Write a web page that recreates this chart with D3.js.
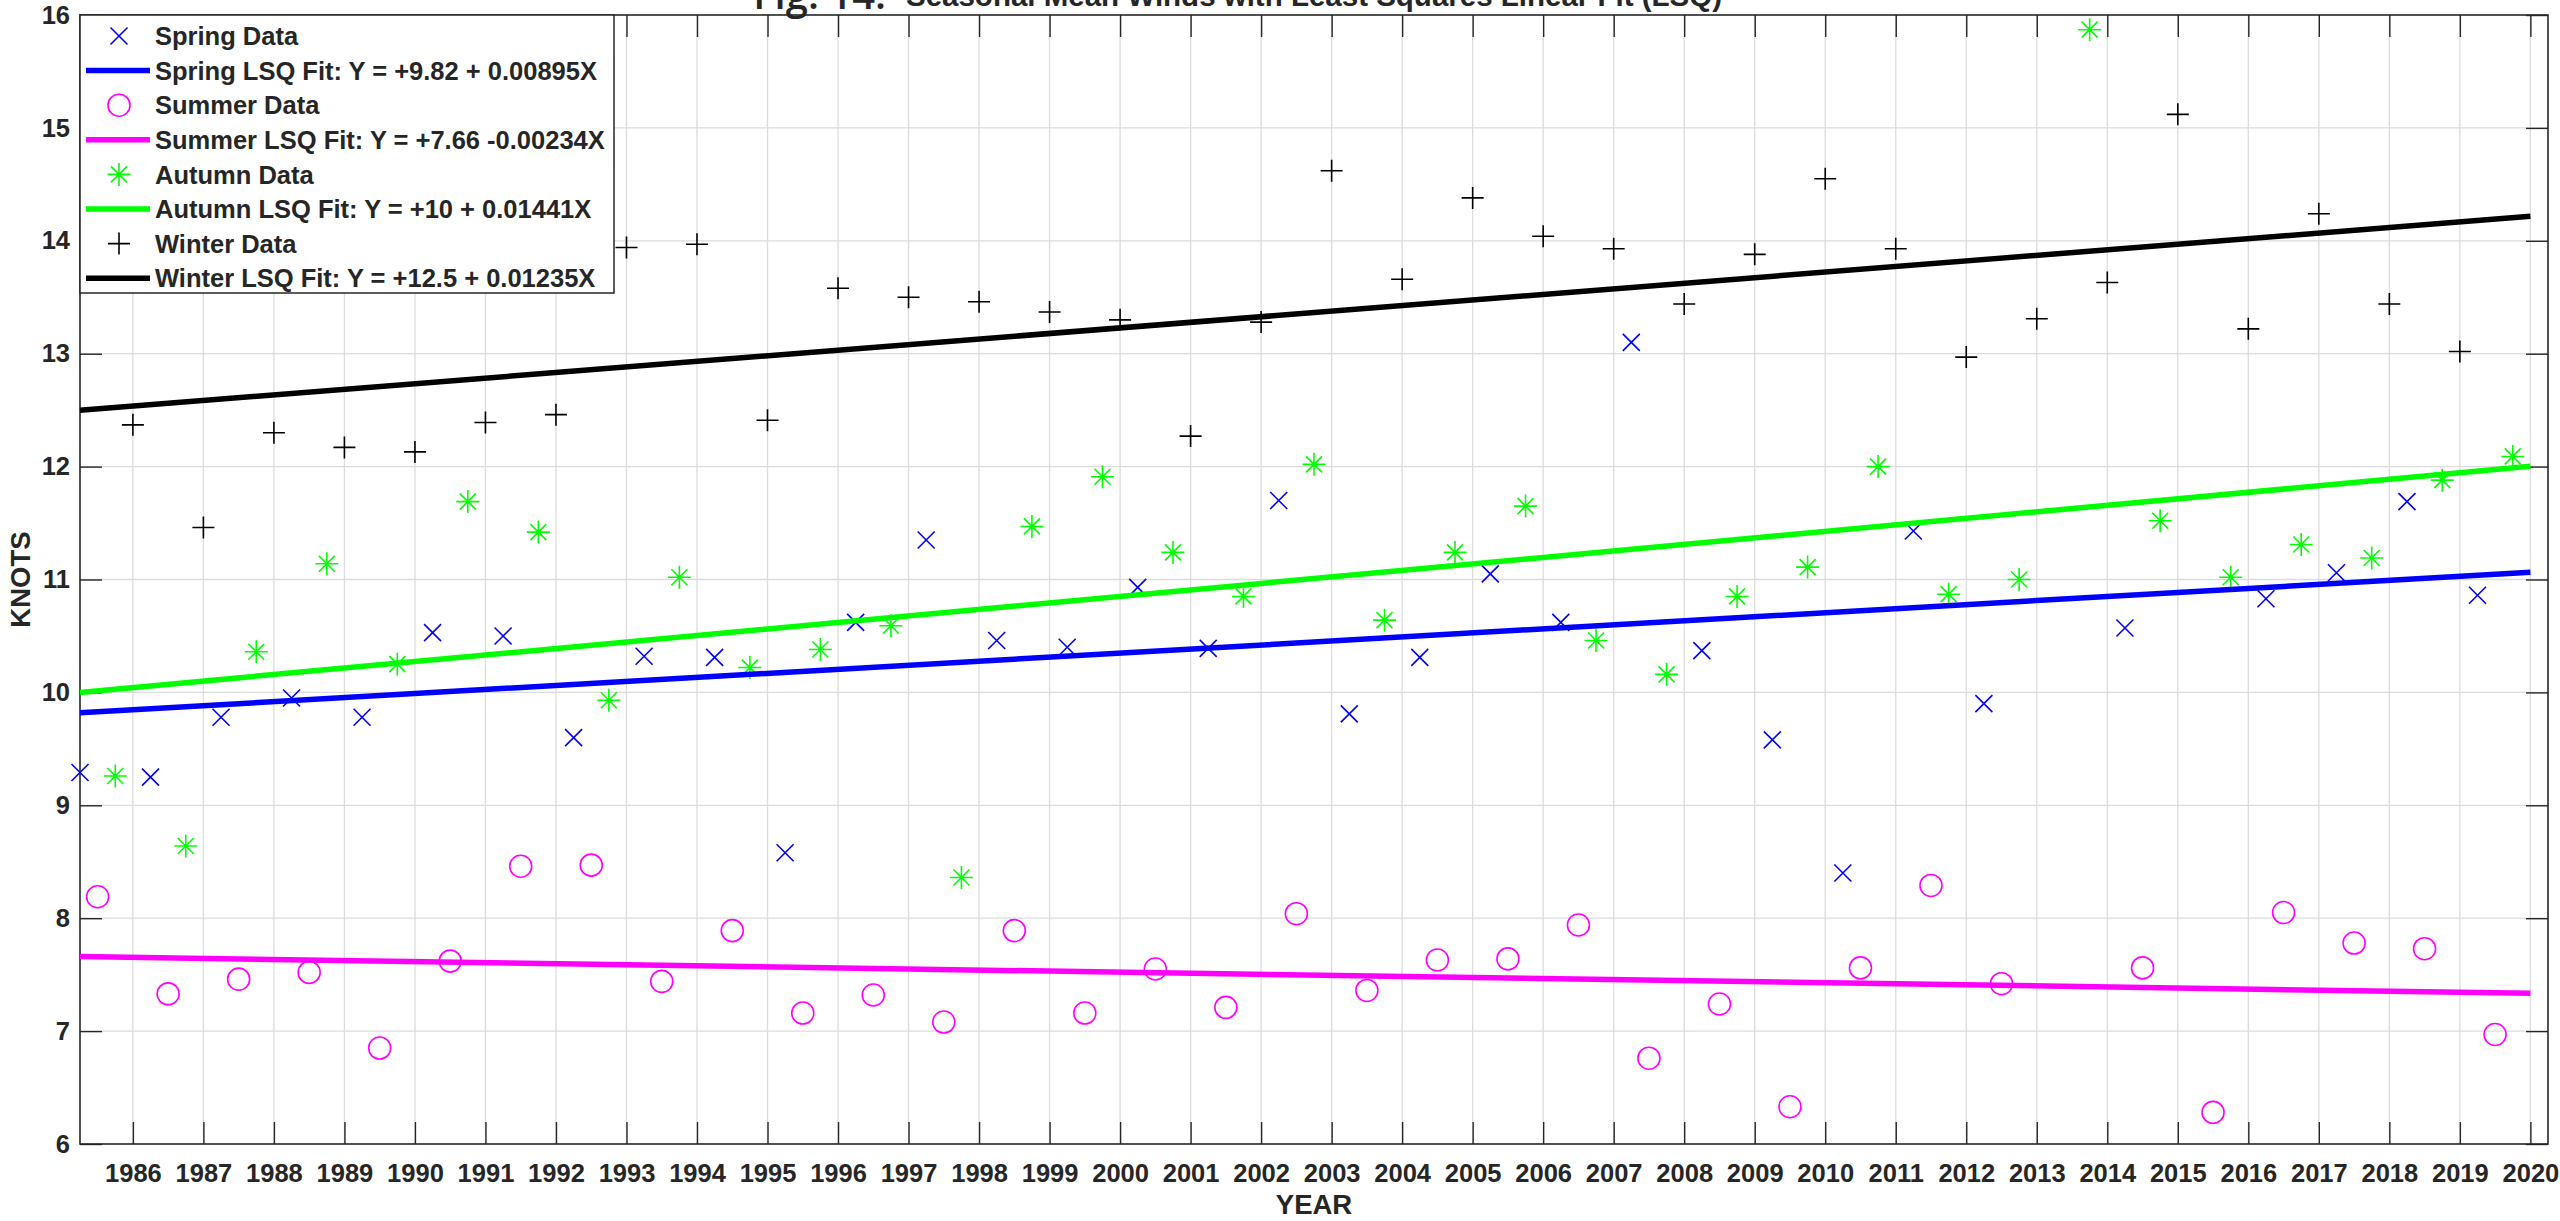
<!DOCTYPE html>
<html>
<head>
<meta charset="utf-8">
<script src="https://cdn.jsdelivr.net/npm/d3@7/dist/d3.min.js"></script>
<style>
  body { margin: 0; background: #fff; overflow: hidden; }
  svg { display: block; }
  svg text { font-family: "Liberation Sans", Arial, Helvetica, sans-serif; font-weight: bold; fill: #262626; }
</style>
</head>
<body>
<svg id="chart"></svg>
<script>
// season values, one per year (null = no point drawn)
const dataYears = [1985, 1986, 1987, 1988, 1989, 1990, 1991, 1992, 1993, 1994, 1995, 1996,
  1997, 1998, 1999, 2000, 2001, 2002, 2003, 2004, 2005, 2006, 2007, 2008, 2009, 2010,
  2011, 2012, 2013, 2014, 2015, 2016, 2017, 2018, 2019];

const springValues = [9.29, 9.25, 9.78, 9.95, 9.78, 10.53, 10.50, 9.60, 10.32, 10.31, 8.58, 10.62,
  11.35, 10.46, 10.40, 10.93, 10.39, 11.70, 9.81, 10.31, 11.05, 10.62, 13.10, 10.37, 9.58, 8.40,
  11.43, 9.90, null, 10.57, null, 10.83, 11.06, 11.69, 10.86];

const summerValues = [8.19, 7.33, 7.46, 7.52, 6.85, 7.62, 8.46, 8.47, 7.44, 7.89, 7.16, 7.32,
  7.08, 7.89, 7.16, 7.55, 7.21, 8.04, 7.36, 7.63, 7.64, 7.94, 6.76, 7.24, 6.33, 7.56,
  8.29, 7.42, null, 7.56, 6.28, 8.05, 7.78, 7.73, 6.97];

const autumnValues = [9.26, 8.64, 10.36, 11.14, 10.25, 11.69, 11.42, 9.93, 11.02, 10.22, 10.38, 10.59,
  8.36, 11.47, 11.91, 11.24, 10.85, 12.02, 10.64, 11.24, 11.65, 10.46, 10.16, 10.85, 11.11, 12.00,
  10.87, 11.00, 15.87, 11.52, 11.02, 11.31, 11.19, 11.88, 12.09];

// winter sits on the year tick (Dec-Feb), so it runs 1986..2019
const winterYears = [1986, 1987, 1988, 1989, 1990, 1991, 1992, 1993, 1994, 1995, 1996, 1997,
  1998, 1999, 2000, 2001, 2002, 2003, 2004, 2005, 2006, 2007, 2008, 2009, 2010, 2011,
  2012, 2013, 2014, 2015, 2016, 2017, 2018, 2019];

const winterValues = [12.37, 11.46, 12.30, 12.17, 12.13, 12.39, 12.46, 13.94, 13.97, 12.41, 13.58, 13.50,
  13.46, 13.37, 13.30, 12.27, 13.28, 14.62, 13.66, 14.38, 14.04, 13.93, 13.44, 13.88, 14.55, 13.93,
  12.97, 13.31, 13.63, 15.12, 13.22, 14.24, 13.44, 13.02];

// LSQ fits as printed in the legend (X = season index)
const fitIntercepts = [9.82, 7.66, 10, 12.5];
const fitSlopes = [0.00895, -0.00234, 0.01441, 0.01235];

const tickYears = ["1986", "1987", "1988", "1989", "1990", "1991", "1992", "1993", "1994", "1995",
  "1996", "1997", "1998", "1999", "2000", "2001", "2002", "2003", "2004", "2005", "2006", "2007",
  "2008", "2009", "2010", "2011", "2012", "2013", "2014", "2015", "2016", "2017", "2018", "2019", "2020"];
const yTicks = [6, 7, 8, 9, 10, 11, 12, 13, 14, 15, 16];

const legendLabels = [
  "Spring Data",
  "Spring LSQ Fit: Y = +9.82 + 0.00895X",
  "Summer Data",
  "Summer LSQ Fit: Y = +7.66 -0.00234X",
  "Autumn Data",
  "Autumn LSQ Fit: Y = +10 + 0.01441X",
  "Winter Data",
  "Winter LSQ Fit: Y = +12.5 + 0.01235X"
];

const width = 2560;
const height = 1221;
const margin = { top: 15, right: 12, bottom: 77, left: 80 };
const innerWidth = width - margin.left - margin.right;
const innerHeight = height - margin.top - margin.bottom;

const svg = d3.select("#chart").attr("width", width).attr("height", height);
svg.append("rect").attr("width", width).attr("height", height).attr("fill", "#fff");

// season index: spring = 0, summer = 1, autumn = 2, winter = 3 (on the tick)
const xScale = d3.scaleLinear().domain([0, 140]).range([0, innerWidth]);
const yScale = d3.scaleLinear().domain([6, 16]).range([innerHeight, 0]);

const tickX = tickYears.map((y) => (+y - 1986) * 4 + 3);

const g = svg.append("g").attr("transform", `translate(${margin.left}, ${margin.top})`);

// grid
g.append("g")
  .selectAll("line")
  .data(tickX)
  .join("line")
  .attr("x1", (d) => xScale(d))
  .attr("x2", (d) => xScale(d))
  .attr("y1", 0)
  .attr("y2", innerHeight)
  .attr("stroke", "#dcdcdc")
  .attr("stroke-width", 1.3);

g.append("g")
  .selectAll("line")
  .data(yTicks.slice(1, -1))
  .join("line")
  .attr("x1", 0)
  .attr("x2", innerWidth)
  .attr("y1", (d) => yScale(d))
  .attr("y2", (d) => yScale(d))
  .attr("stroke", "#dcdcdc")
  .attr("stroke-width", 1.3);

// axes, ticks pointing inwards
const tickLen = 22;
const styleAxis = (sel) => {
  sel.select(".domain").remove();
  sel.selectAll(".tick line").attr("stroke", "#262626").attr("stroke-width", 1.4);
  sel.selectAll(".tick text").attr("font-size", 25.5).attr("fill", "#262626");
};

g.append("g")
  .attr("transform", `translate(0, ${innerHeight})`)
  .call(d3.axisBottom(xScale).tickValues(tickX).tickFormat((d, i) => tickYears[i])
    .tickSizeInner(-tickLen).tickSizeOuter(0).tickPadding(20))
  .call(styleAxis);

g.append("g")
  .call(d3.axisTop(xScale).tickValues(tickX).tickFormat("").tickSizeInner(-tickLen).tickSizeOuter(0))
  .call(styleAxis);

g.append("g")
  .call(d3.axisLeft(yScale).tickValues(yTicks).tickFormat(d3.format("d"))
    .tickSizeInner(-tickLen).tickSizeOuter(0).tickPadding(10))
  .call(styleAxis);

g.append("g")
  .attr("transform", `translate(${innerWidth}, 0)`)
  .call(d3.axisRight(yScale).tickValues(yTicks).tickFormat("").tickSizeInner(-tickLen).tickSizeOuter(0))
  .call(styleAxis);

g.append("rect")
  .attr("width", innerWidth)
  .attr("height", innerHeight)
  .attr("fill", "none")
  .attr("stroke", "#262626")
  .attr("stroke-width", 1.6);

// markers
const colors = ["#0000ff", "#ff00ff", "#00ff00", "#000000"];
const symbols = {
  cross: "M-8.5,-8.5L8.5,8.5M-8.5,8.5L8.5,-8.5",
  circle: "M11,0A11,11 0 1,1 -11,0A11,11 0 1,1 11,0Z",
  star: "M-11.5,0H11.5M0,-11.5V11.5M-8,-8L8,8M-8,8L8,-8",
  plus: "M-11,0H11M0,-11V11"
};
const symbolOrder = [symbols.cross, symbols.circle, symbols.star, symbols.plus];

const series = [
  { values: springValues, years: dataYears, offset: 0, base: 1985 },
  { values: summerValues, years: dataYears, offset: 1, base: 1985 },
  { values: autumnValues, years: dataYears, offset: 2, base: 1985 },
  { values: winterValues, years: winterYears, offset: 3, base: 1986 }
];

const fitEnd = tickX[tickX.length - 1];
const line = d3.line().x((d) => xScale(d[0])).y((d) => yScale(d[1]));

series.forEach((s, i) => {
  const pts = s.years
    .map((yr, j) => ({ x: (yr - s.base) * 4 + s.offset, y: s.values[j] }))
    .filter((d) => d.y !== null);

  g.append("g")
    .selectAll("path")
    .data(pts)
    .join("path")
    .attr("transform", (d) => `translate(${xScale(d.x)}, ${yScale(d.y)})`)
    .attr("d", symbolOrder[i])
    .attr("fill", "none")
    .attr("stroke", colors[i])
    .attr("stroke-width", 1.6);
});

// fit lines drawn after all the markers
series.forEach((s, i) => {
  g.append("path")
    .datum([[0, fitIntercepts[i]], [fitEnd, fitIntercepts[i] + fitSlopes[i] * fitEnd]])
    .attr("d", line)
    .attr("fill", "none")
    .attr("stroke", colors[i])
    .attr("stroke-width", 5.5);
});

// legend
const legend = g.append("g");
const rowH = 34.6;
legend.append("rect")
  .attr("width", 534)
  .attr("height", 278)
  .attr("fill", "#fff")
  .attr("stroke", "#262626")
  .attr("stroke-width", 1.5);

legendLabels.forEach((label, i) => {
  const s = Math.floor(i / 2);
  const cy = 21 + i * rowH;
  if (i % 2 === 0) {
    legend.append("path")
      .attr("transform", `translate(39, ${cy})`)
      .attr("d", symbolOrder[s])
      .attr("fill", "none")
      .attr("stroke", colors[s])
      .attr("stroke-width", 1.6);
  } else {
    legend.append("line")
      .attr("x1", 6).attr("x2", 70)
      .attr("y1", cy).attr("y2", cy)
      .attr("stroke", colors[s])
      .attr("stroke-width", 5.5);
  }
  legend.append("text")
    .attr("x", 75)
    .attr("y", cy)
    .attr("dy", "0.36em")
    .attr("font-size", 25.5)
    .attr("fill", "#000")
    .text(label);
});

// axis labels
svg.append("text")
  .attr("x", margin.left + innerWidth / 2)
  .attr("y", 1214)
  .attr("text-anchor", "middle")
  .attr("font-size", 27.5)
  .text("YEAR");

svg.append("text")
  .attr("transform", `translate(30, ${margin.top + innerHeight / 2}) rotate(-90)`)
  .attr("text-anchor", "middle")
  .attr("font-size", 27.5)
  .text("KNOTS");

// title (cropped at the top edge, as in the figure)
svg.append("text")
  .attr("x", margin.left + innerWidth / 2)
  .attr("y", 6)
  .attr("text-anchor", "middle")
  .attr("font-size", 29.5)
  .attr("fill", "#000")
  .text("Seasonal Mean Winds with Least Squares Linear Fit (LSQ)");

svg.append("text")
  .attr("x", 886)
  .attr("y", 9)
  .attr("text-anchor", "end")
  .attr("font-size", 40)
  .attr("fill", "#000")
  .style("font-family", "'Open Sans', 'Noto Sans', sans-serif")
  .style("font-weight", 600)
  .text("Fig. 14:");
</script>
</body>
</html>
